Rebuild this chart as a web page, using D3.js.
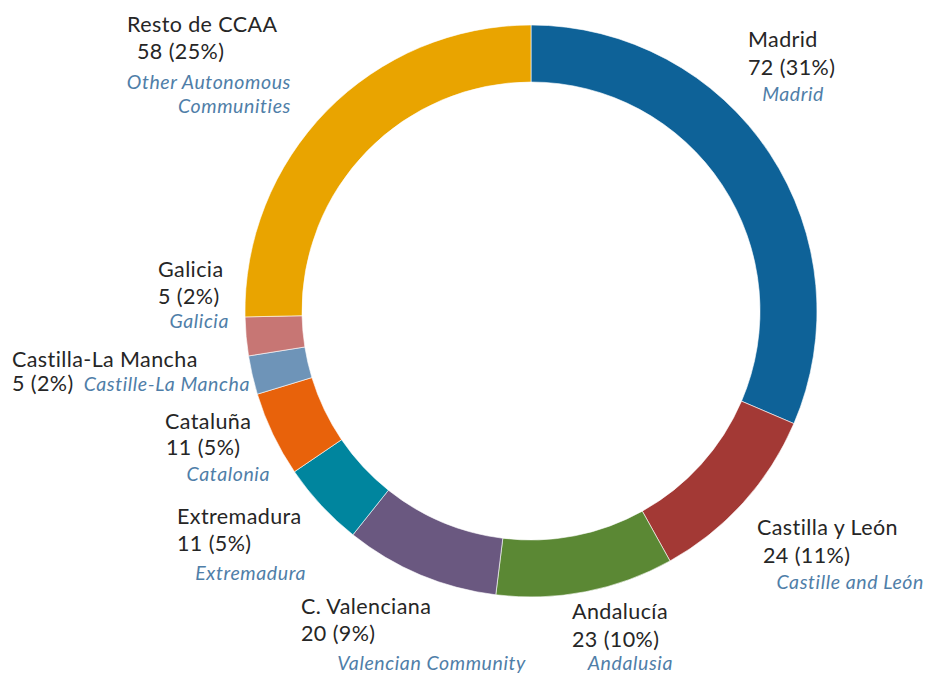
<!DOCTYPE html>
<html>
<head>
<meta charset="utf-8">
<script src="https://cdn.jsdelivr.net/npm/d3@7"></script>
<style>
  body { margin: 0; background: #fff; }
  svg text { font-family: Lato, "Open Sans", sans-serif; }
</style>
</head>
<body>
<div id="chart"></div>
<script>
// DATA
const regions = ["Madrid", "Castilla y León", "Andalucía", "C. Valenciana", "Extremadura",
  "Cataluña", "Castilla-La Mancha", "Galicia", "Resto de CCAA"];
const regionsEn = ["Madrid", "Castille and León", "Andalusia", "Valencian Community", "Extremadura",
  "Catalonia", "Castille-La Mancha", "Galicia", "Other Autonomous\nCommunities"];
const counts = [72, 24, 23, 20, 11, 11, 5, 5, 58];
const percents = [31, 11, 10, 9, 5, 5, 2, 2, 25];
const colors = ["#0e6298", "#a33935", "#5b8834", "#6a5880", "#00859e",
  "#e8620b", "#6e94b8", "#c77674", "#e9a400"];

const width = 928;
const height = 675;
const cx = 531, cy = 311;
const rOuter = 286, rInner = 229;

// label layout: [nameX, nameY, valueX, valueY, enX(end), enY]
const labelLayout = [
  [748, 47, 748, 75, 824, 101],
  [757, 535, 763, 563, 924, 589],
  [572, 619, 572, 647, 673, 670],
  [301, 614, 301, 641, 526, 670],
  [177, 524, 177, 551, 306, 580],
  [165, 429, 166, 455, 270, 481],
  [12, 367, 12, 391, 250, 391],
  [158, 277, 158, 304, 229, 328],
  [127, 32, 137, 59, 291, 89]
];

const data = regions.map((r, i) => ({
  name: r, en: regionsEn[i], n: counts[i], pct: percents[i], color: colors[i], lay: labelLayout[i]
}));

const svg = d3.select("#chart").append("svg")
  .attr("width", width)
  .attr("height", height);

const pie = d3.pie().sort(null).value(d => d.n);
const arc = d3.arc().innerRadius(rInner).outerRadius(rOuter);

const g = svg.append("g").attr("transform", "translate(" + cx + "," + cy + ")");

g.selectAll("path")
  .data(pie(data))
  .join("path")
  .attr("d", arc)
  .attr("fill", d => d.data.color)
  .attr("stroke", "#fff")
  .attr("stroke-width", 0.6);

// LABELS
const lab = svg.append("g");
data.forEach(d => {
  const l = d.lay;
  lab.append("text")
    .attr("x", l[0]).attr("y", l[1])
    .attr("font-size", 21.5)
    .attr("letter-spacing", 0.4)
    .attr("fill", "#262626")
    .text(d.name);
  lab.append("text")
    .attr("x", l[2]).attr("y", l[3])
    .attr("font-size", 21.5)
    .attr("letter-spacing", 0.4)
    .attr("fill", "#262626")
    .text(d.n + " (" + d.pct + "%)");
  const en = lab.append("text")
    .attr("x", l[4]).attr("y", l[5])
    .attr("font-size", 19.5)
    .attr("letter-spacing", 0.6)
    .attr("font-style", "italic")
    .attr("fill", "#4f7ea8")
    .attr("text-anchor", "end");
  d.en.split("\n").forEach((line, i) => {
    en.append("tspan").attr("x", l[4]).attr("dy", i === 0 ? 0 : 24).text(line);
  });
});
</script>
</body>
</html>
